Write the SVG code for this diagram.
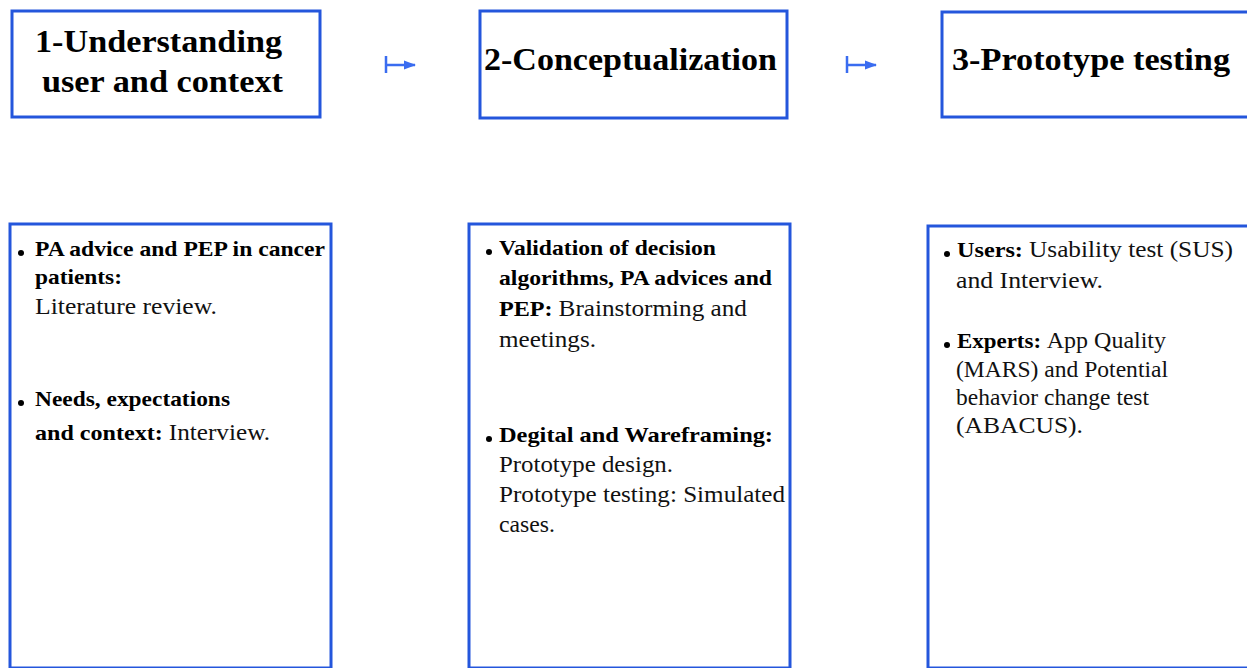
<svg xmlns="http://www.w3.org/2000/svg" width="1247" height="668" viewBox="0 0 1247 668">
<defs>
<style>
.box{fill:#fff;stroke:#2456dc;stroke-width:3}
text{font-family:"Liberation Serif","Times New Roman",serif;fill:#000}
.t{font-weight:bold;font-size:32px}
.b{font-weight:bold;font-size:22px}
.r{font-size:23px;fill:#111}
.rn{font-weight:normal;font-size:23px;fill:#111}
.dot{fill:#000}
.conn{stroke:#3a6cf0;stroke-width:2.5;fill:none}
</style>
<marker id="ah" markerWidth="12" markerHeight="10" refX="11" refY="5" orient="auto" markerUnits="userSpaceOnUse"><path d="M0,0.5 L12,5 L0,9.5 z" fill="#3a6cf0"/></marker>
</defs>
<rect width="1247" height="668" fill="#fff"/>
<g id="connectors">
<path class="conn" d="M386,56 V73 M386,65 H415" marker-end="url(#ah)"/>
<path class="conn" d="M847,56 V73 M847,65 H876" marker-end="url(#ah)"/>
</g>
<g id="stage1">
<rect class="box" x="12" y="11" width="308" height="106"/>
<text class="t" x="35" y="52" textLength="247" lengthAdjust="spacingAndGlyphs">1-Understanding</text>
<text class="t" x="42" y="92" textLength="241" lengthAdjust="spacingAndGlyphs">user and context</text>
</g>
<g id="stage2">
<rect class="box" x="480" y="11" width="307" height="107"/>
<text class="t" x="484" y="70" textLength="293" lengthAdjust="spacingAndGlyphs">2-Conceptualization</text>
</g>
<g id="stage3">
<rect class="box" x="942" y="12" width="310" height="105"/>
<text class="t" x="952" y="70" textLength="278" lengthAdjust="spacingAndGlyphs">3-Prototype testing</text>
</g>
<g id="detail1">
<rect class="box" x="10" y="224" width="321" height="444"/>
<circle class="dot" cx="21" cy="253" r="3"/>
<text class="b" x="35" y="256" textLength="290" lengthAdjust="spacingAndGlyphs">PA advice and PEP in cancer</text>
<text class="b" x="35" y="284" textLength="87" lengthAdjust="spacingAndGlyphs">patients:</text>
<text class="r" x="35" y="314" textLength="182" lengthAdjust="spacingAndGlyphs">Literature review.</text>
<circle class="dot" cx="21" cy="403" r="3"/>
<text class="b" x="35" y="406" textLength="195" lengthAdjust="spacingAndGlyphs">Needs, expectations</text>
<text class="b" x="35" y="440" textLength="235" lengthAdjust="spacingAndGlyphs">and context: <tspan class="rn">Interview.</tspan></text>
</g>
<g id="detail2">
<rect class="box" x="469" y="224" width="321" height="444"/>
<circle class="dot" cx="489" cy="252" r="3"/>
<text class="b" x="499" y="255" textLength="217" lengthAdjust="spacingAndGlyphs">Validation of decision</text>
<text class="b" x="499" y="285" textLength="273" lengthAdjust="spacingAndGlyphs">algorithms, PA advices and</text>
<text class="b" x="499" y="316" textLength="248" lengthAdjust="spacingAndGlyphs">PEP: <tspan class="rn">Brainstorming and</tspan></text>
<text class="r" x="499" y="347" textLength="97" lengthAdjust="spacingAndGlyphs">meetings.</text>
<circle class="dot" cx="489" cy="439" r="3"/>
<text class="b" x="499" y="442" textLength="274" lengthAdjust="spacingAndGlyphs">Degital and Wareframing:</text>
<text class="r" x="499" y="472" textLength="174" lengthAdjust="spacingAndGlyphs">Prototype design.</text>
<text class="r" x="499" y="502" textLength="286" lengthAdjust="spacingAndGlyphs">Prototype testing: Simulated</text>
<text class="r" x="499" y="532" textLength="56" lengthAdjust="spacingAndGlyphs">cases.</text>
</g>
<g id="detail3">
<rect class="box" x="928" y="226" width="322" height="442"/>
<circle class="dot" cx="947" cy="254" r="3"/>
<text class="b" x="957" y="257" textLength="276" lengthAdjust="spacingAndGlyphs">Users: <tspan class="rn">Usability test (SUS)</tspan></text>
<text class="r" x="956" y="288" textLength="147" lengthAdjust="spacingAndGlyphs">and Interview.</text>
<circle class="dot" cx="947" cy="345" r="3"/>
<text class="b" x="957" y="348" textLength="209" lengthAdjust="spacingAndGlyphs">Experts: <tspan class="rn">App Quality</tspan></text>
<text class="r" x="956" y="377" textLength="212" lengthAdjust="spacingAndGlyphs">(MARS) and Potential</text>
<text class="r" x="956" y="405" textLength="193" lengthAdjust="spacingAndGlyphs">behavior change test</text>
<text class="r" x="956" y="433" textLength="127" lengthAdjust="spacingAndGlyphs">(ABACUS).</text>
</g>
</svg>
